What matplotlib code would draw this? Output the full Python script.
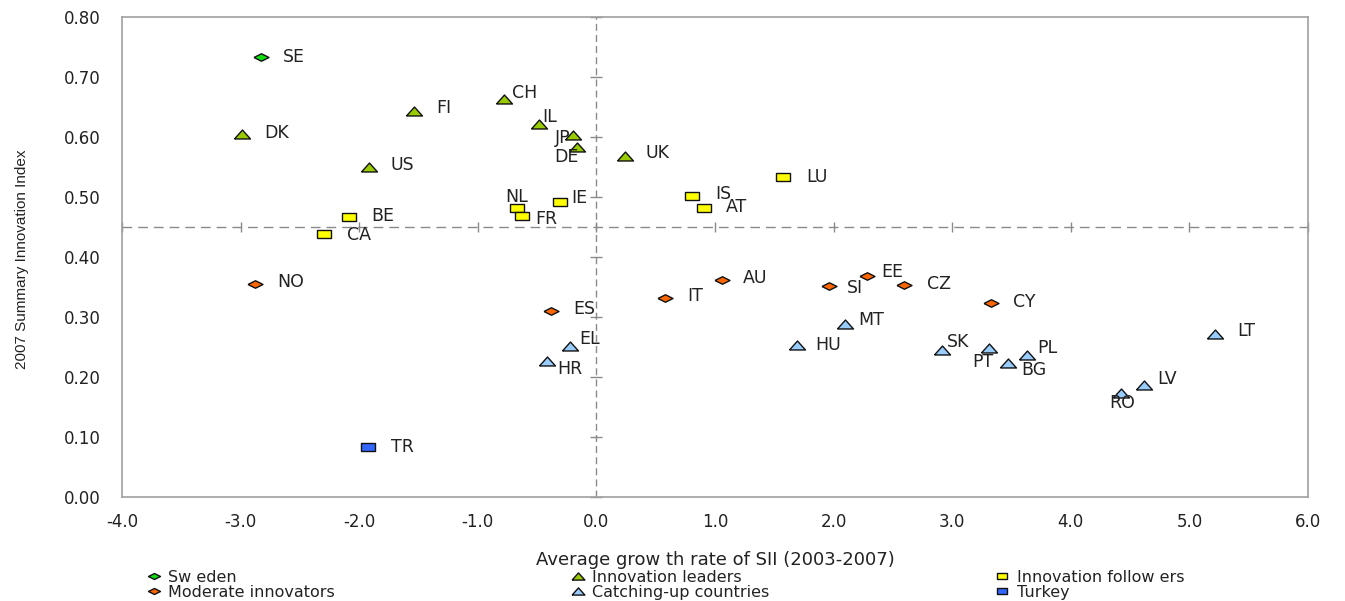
import matplotlib
matplotlib.use("Agg")
import matplotlib.pyplot as plt

# ---------------- data ----------------
sweden_codes = ["SE"]
sweden_x = [-2.83]
sweden_y = [0.733]

leaders_codes = ["DK", "FI", "US", "CH", "IL", "JP", "DE", "UK"]
leaders_x = [-2.99, -1.54, -1.92, -0.78, -0.48, -0.20, -0.16, 0.24]
leaders_y = [0.605, 0.643, 0.550, 0.664, 0.622, 0.603, 0.584, 0.569]

followers_codes = ["BE", "CA", "NL", "FR", "IE", "IS", "AT", "LU"]
followers_x = [-2.09, -2.30, -0.67, -0.63, -0.31, 0.81, 0.91, 1.57]
followers_y = [0.467, 0.438, 0.481, 0.469, 0.491, 0.502, 0.481, 0.533]

moderate_codes = ["NO", "ES", "IT", "AU", "SI", "EE", "CZ", "CY"]
moderate_x = [-2.88, -0.38, 0.58, 1.06, 1.96, 2.28, 2.59, 3.33]
moderate_y = [0.355, 0.310, 0.331, 0.361, 0.351, 0.368, 0.354, 0.324]

catching_codes = ["EL", "HR", "HU", "MT", "SK", "PT", "BG", "PL", "LV", "RO", "LT"]
catching_x = [-0.22, -0.42, 1.69, 2.10, 2.91, 3.31, 3.47, 3.63, 4.62, 4.42, 5.22]
catching_y = [0.252, 0.227, 0.253, 0.288, 0.245, 0.248, 0.224, 0.237, 0.186, 0.173, 0.271]

turkey_codes = ["TR"]
turkey_x = [-1.93]
turkey_y = [0.083]

group_names = ["Sw eden", "Innovation leaders", "Innovation follow ers",
               "Moderate innovators", "Catching-up countries", "Turkey"]

x_ticks = [-4.0, -3.0, -2.0, -1.0, 0.0, 1.0, 2.0, 3.0, 4.0, 5.0, 6.0]
y_ticks = [0.0, 0.1, 0.2, 0.3, 0.4, 0.5, 0.6, 0.7, 0.8]
x_cross = 0.0
y_cross = 0.45

x_title = "Average grow th rate of SII (2003-2007)"
y_title = "2007 Summary Innovation Index"

# ---------------- styles ----------------
tri = [(-1, -0.56), (1, -0.56), (0, 0.56), (-1, -0.56)]
sqr = [(-1, -0.62), (1, -0.62), (1, 0.62), (-1, 0.62), (-1, -0.62)]
dia = [(-1, 0), (0, 0.5), (1, 0), (0, -0.5), (-1, 0)]

# label offsets (pixels, y up) and alignment
lab = {
    "SE": (22, 0, "left"), "DK": (22, 1, "left"), "FI": (22, 3, "left"),
    "US": (22, 2, "left"), "CH": (8, 6, "left"), "IL": (3, 7, "left"),
    "JP": (-2, -3, "right"), "DE": (1, -10, "right"), "UK": (21, 3, "left"),
    "BE": (23, 1, "left"), "CA": (23, -1, "left"), "NL": (0, 11, "center"),
    "FR": (14, -3, "left"), "IE": (12, 4, "left"), "IS": (23, 2, "left"),
    "AT": (22, 1, "left"), "LU": (24, 0, "left"), "NO": (22, 2, "left"),
    "ES": (22, 2, "left"), "IT": (22, 2, "left"), "AU": (21, 2, "left"),
    "SI": (18, -2, "left"), "EE": (14, 4, "left"), "CZ": (23, 1, "left"),
    "CY": (22, 1, "left"), "EL": (9, 7, "left"), "HR": (11, -8, "left"),
    "HU": (18, 0, "left"), "MT": (13, 4, "left"), "SK": (5, 8, "left"),
    "PT": (5, -14, "right"), "BG": (13, -7, "left"), "PL": (10, 7, "left"),
    "LV": (13, 6, "left"), "RO": (2, -10, "center"), "LT": (22, 3, "left"),
    "TR": (23, 0, "left"),
}

plt.rcParams["font.family"] = ["DejaVu Sans"]

fig = plt.figure(figsize=(13.45, 6.01), dpi=100)
ax = fig.add_axes([122 / 1345, 1 - 497 / 601, (1308 - 122) / 1345, (497 - 17) / 601])

groups = [
    (sweden_codes, sweden_x, sweden_y, dia, 10.8, "#11DD11", group_names[0]),
    (leaders_codes, leaders_x, leaders_y, tri, 11.5, "#99CC00", group_names[1]),
    (followers_codes, followers_x, followers_y, sqr, 9.4, "#FFFF00", group_names[2]),
    (moderate_codes, moderate_x, moderate_y, dia, 10.8, "#FF6600", group_names[3]),
    (catching_codes, catching_x, catching_y, tri, 11.5, "#99CCFF", group_names[4]),
    (turkey_codes, turkey_x, turkey_y, sqr, 9.4, "#3366FF", group_names[5]),
]

handles = []
for codes, xs, ys, mk, ms, col, name in groups:
    h, = ax.plot(xs, ys, linestyle="none", marker=mk, markersize=ms,
                 markerfacecolor=col, markeredgecolor="#111111",
                 markeredgewidth=1.0, label=name, zorder=4)
    handles.append(h)
    for c, x, y in zip(codes, xs, ys):
        dx, dy, ha = lab[c]
        ax.annotate(c, (x, y), xytext=(dx, dy), textcoords="offset pixels",
                    ha=ha, va="center", fontsize=12.5, color="#222222", zorder=5)

# crossing dashed lines with small tick marks
ax.axvline(x_cross, color="#8a8a8a", lw=1.0, dashes=(5, 3), zorder=1)
ax.axhline(y_cross, color="#8a8a8a", lw=1.0, dashes=(7, 4.3), zorder=1)
ax.plot([x_cross] * len(y_ticks), y_ticks, linestyle="none", marker="_",
        markersize=8, color="#8a8a8a", markeredgewidth=1.0, zorder=1, clip_on=False)
ax.plot(x_ticks, [y_cross] * len(x_ticks), linestyle="none", marker="|",
        markersize=7, color="#8a8a8a", markeredgewidth=1.0, zorder=1, clip_on=False)

ax.set_xlim(x_ticks[0], x_ticks[-1])
ax.set_ylim(y_ticks[0], y_ticks[-1])
ax.set_xticks(x_ticks)
ax.set_yticks(y_ticks)
ax.set_xticklabels([f"{v:.1f}" for v in x_ticks])
ax.set_yticklabels([f"{v:.2f}" for v in y_ticks])
ax.tick_params(axis="both", length=0, labelsize=12, labelcolor="#222222")
ax.tick_params(axis="y", pad=15.5)
ax.tick_params(axis="x", pad=11.5)
for s in ax.spines.values():
    s.set_color("#a0a0a0")
    s.set_linewidth(1.2)

ax.set_xlabel(x_title, fontsize=13, color="#222222")
ax.xaxis.set_label_coords(0.5, -0.131)
ax.xaxis.label.set_va("center")
ax.set_ylabel(y_title, fontsize=11, color="#222222",
              family=["Liberation Sans Narrow", "Liberation Sans", "DejaVu Sans"])
ax.yaxis.set_label_coords(-0.084, 0.495)
ax.yaxis.label.set_va("center")

# legend in three columns
cols = [[handles[0], handles[3]], [handles[1], handles[4]], [handles[2], handles[5]]]
anchors = [146 / 1345, 570 / 1345, 994.5 / 1345]
for hs, ax0 in zip(cols, anchors):
    fig.legend(handles=hs, labels=[h.get_label() for h in hs], loc="upper left",
               bbox_to_anchor=(ax0, 1 - 570 / 601), bbox_transform=fig.transFigure,
               frameon=False, fontsize=11.5, borderpad=0, borderaxespad=0,
               handlelength=1.0, handletextpad=0.4, labelspacing=-0.02,
               markerscale=0.8, labelcolor="#222222")

fig.savefig("out.png", dpi=100)
